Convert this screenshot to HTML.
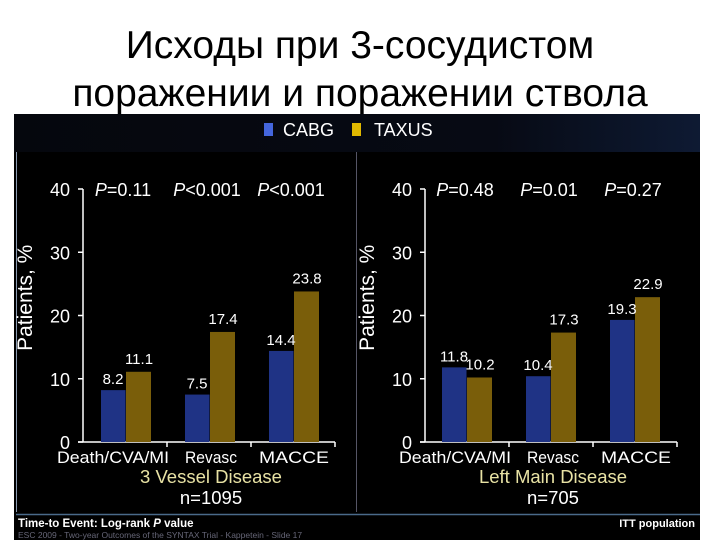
<!DOCTYPE html>
<html><head><meta charset="utf-8"><style>
body{margin:0;background:#fff;width:720px;height:540px;overflow:hidden;font-family:"Liberation Sans","DejaVu Sans",sans-serif}
.title{position:absolute;left:0;width:720px;text-align:center;font-size:39px;color:#000;line-height:48px}
</style></head><body>
<div class="title" style="top:22px">Исходы при 3-сосудистом<br>поражении и поражении ствола</div>
<svg width="720" height="540" style="position:absolute;left:0;top:0">
<defs><linearGradient id="hd" x1="0" x2="1"><stop offset="0" stop-color="#05070d"/><stop offset="0.7" stop-color="#070a14"/><stop offset="1" stop-color="#0e1a33"/></linearGradient></defs>
<rect x="14" y="114" width="686" height="426" fill="#000"/>
<rect x="14" y="114" width="686" height="38" fill="url(#hd)"/>
<line x1="16.5" y1="152" x2="16.5" y2="512" stroke="#8a9ab0" stroke-width="1"/>
<line x1="356.5" y1="152" x2="356.5" y2="512" stroke="#556" stroke-width="1"/>
<line x1="16" y1="514.5" x2="700" y2="514.5" stroke="#4a6a8a" stroke-width="1.5"/>
<g>
<rect x="264" y="123" width="9" height="13" fill="#4466dd"/>
<text x="283" y="136" fill="#fff" font-size="18">CABG</text>
<rect x="352" y="123" width="9" height="13" fill="#e0b800"/>
<text x="374" y="136" fill="#fff" font-size="18">TAXUS</text>
</g>
<g id="charts"></g>
<text x="18" y="527" fill="#fff" font-size="11.5" font-weight="bold">Time-to Event: Log-rank <tspan font-style="italic">P</tspan> value</text>
<text x="18" y="538" fill="#667" font-size="8.5">ESC 2009 - Two-year Outcomes of the SYNTAX Trial - Kappetein - Slide 17</text>
<text x="695" y="527" fill="#fff" font-size="11" font-weight="bold" text-anchor="end">ITT population</text>
</svg>
<script>
const categories=["Death/CVA/MI","Revasc","MACCE"];
const cabg3v=[8.2,7.5,14.4];
const taxus3v=[11.1,17.4,23.8];
const p3v=["P=0.11","P<0.001","P<0.001"];
const cabgLM=[11.8,10.4,19.3];
const taxusLM=[10.2,17.3,22.9];
const pLM=["P=0.48","P=0.01","P=0.27"];
const yTicks=[0,10,20,30,40];
const ns="http://www.w3.org/2000/svg";
const root=document.getElementById('charts');
const labelOff=[30,128,211], labelW=[112,52,70];
function mk(t,a,txt){const e=document.createElementNS(ns,t);for(const k in a)e.setAttribute(k,a[k]);if(txt!=null)e.textContent=txt;return e;}
function draw(ax,gx0,title,n,cv,tv,pv,key){
  const g=mk('g',{});root.appendChild(g);
  const y=v=>442-v*(253/40), gw=84, xEnd=ax+252;
  const gc=i=>gx0+i*gw;
  const yt=mk('text',{x:0,y:0,fill:'#fff','font-size':21,'text-anchor':'middle',transform:`translate(${ax-51},${y(22.8)}) rotate(-90)`},'Patients, %');
  g.appendChild(yt);
  g.appendChild(mk('line',{x1:ax,y1:y(40),x2:ax,y2:y(0),stroke:'#fff','stroke-width':1.5}));
  g.appendChild(mk('line',{x1:ax-5,y1:y(0),x2:xEnd,y2:y(0),stroke:'#fff','stroke-width':1.5}));
  yTicks.forEach(t=>{g.appendChild(mk('line',{x1:ax-5,y1:y(t),x2:ax,y2:y(t),stroke:'#fff','stroke-width':1.5}));
    const l=mk('text',{x:ax-13,y:y(t)+7,fill:'#fff','font-size':18,'text-anchor':'end'},String(t));
    g.appendChild(l);});
  [1,2,3].forEach(i=>g.appendChild(mk('line',{x1:ax+i*gw,y1:y(0),x2:ax+i*gw,y2:y(0)+5,stroke:'#fff','stroke-width':1.5})));
  categories.forEach((c,i)=>{
    const cx=gc(i);
    const b1=mk('rect',{x:cx-25,y:y(cv[i]),width:24.5,height:y(0)-y(cv[i]),fill:'#1f3385'});
    g.appendChild(b1);
    const b2=mk('rect',{x:cx,y:y(tv[i]),width:25,height:y(0)-y(tv[i]),fill:'#7a5e0a'});
    g.appendChild(b2);
    const l1=mk('text',{x:cx-13,y:y(cv[i])-6,fill:'#fff','font-size':15,'text-anchor':'middle'},cv[i].toFixed(1));
    g.appendChild(l1);
    const l2=mk('text',{x:cx+13,y:y(tv[i])-8,fill:'#fff','font-size':15,'text-anchor':'middle'},tv[i].toFixed(1));
    g.appendChild(l2);
    const cl=mk('text',{x:ax+labelOff[i]-labelW[i]/2,y:463,fill:'#fff','font-size':17,textLength:labelW[i],lengthAdjust:'spacingAndGlyphs'},c);
    g.appendChild(cl);
    const p=mk('text',{x:ax+gw*i+gw/2-2,y:196,fill:'#fff','font-size':18,'text-anchor':'middle'});
    
    const ts=mk('tspan',{'font-style':'italic'},'P');p.appendChild(ts);p.appendChild(document.createTextNode(pv[i].slice(1)));g.appendChild(p);
  });
  const st=mk('text',{x:ax+128,y:483,fill:'#e8e2a4','font-size':18.5,'text-anchor':'middle'},title);
  g.appendChild(st);
  const nt=mk('text',{x:ax+128,y:504,fill:'#fff','font-size':18.5,'text-anchor':'middle'},n);
  g.appendChild(nt);
}
draw(83,126,'3 Vessel Disease','n=1095',cabg3v,taxus3v,p3v,'three-vessel');
draw(425,467,'Left Main Disease','n=705',cabgLM,taxusLM,pLM,'left-main');
</script>
</body></html>
